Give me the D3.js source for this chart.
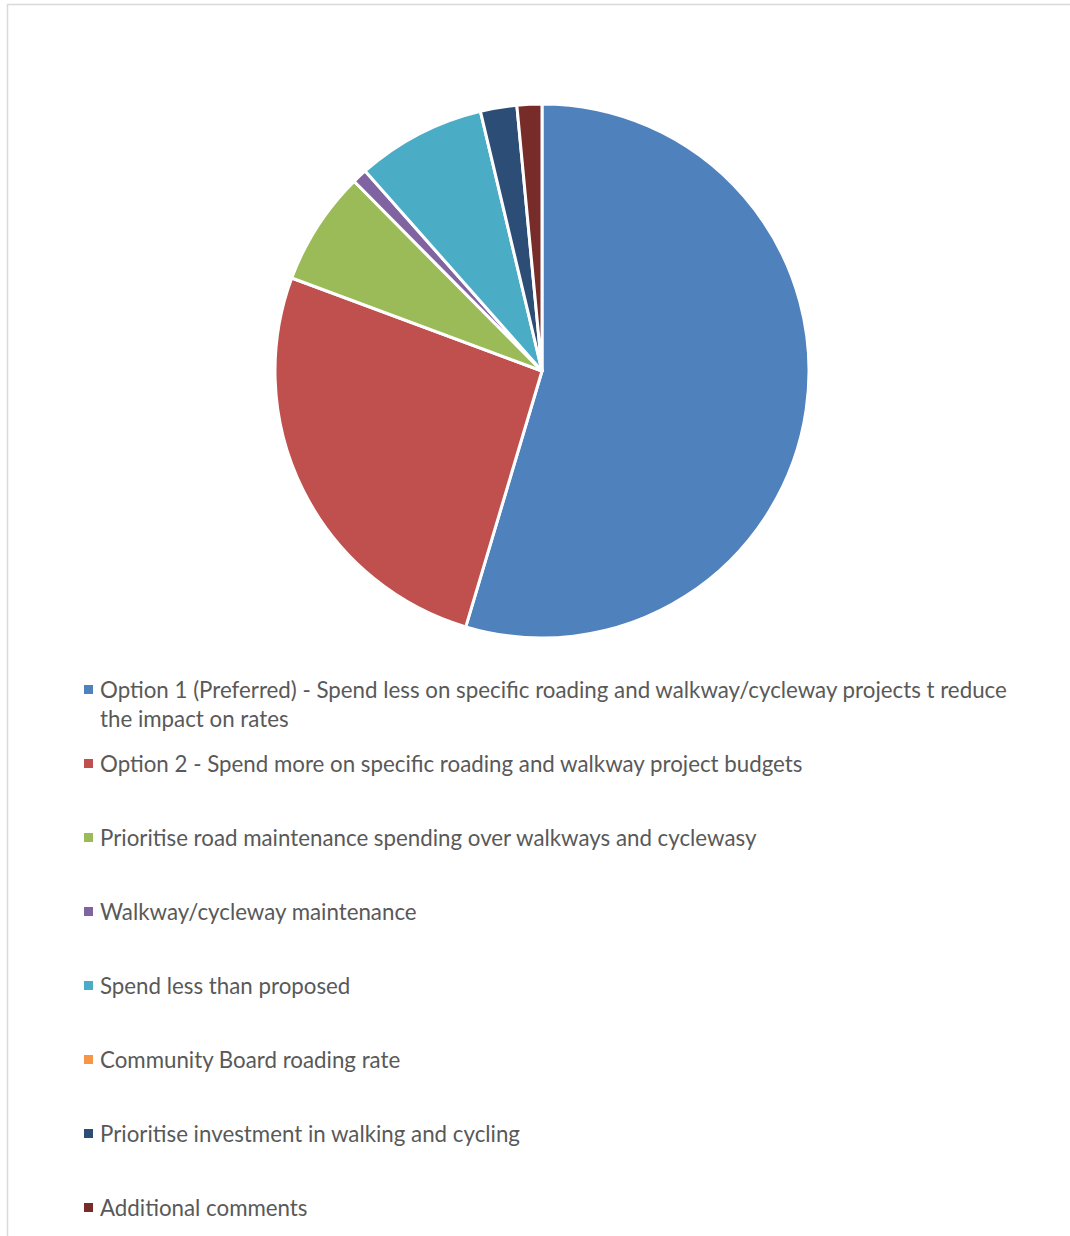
<!DOCTYPE html>
<html>
<head>
<meta charset="utf-8">
<script src="https://cdn.jsdelivr.net/npm/d3@7/dist/d3.min.js"></script>
<style>
  html, body { margin: 0; padding: 0; background: #fff; }
  svg { display: block; }
</style>
</head>
<body>
<svg id="chart" width="1070" height="1236"></svg>
<script>
// Survey responses, share of submissions (%)
const categories = [
  "Option 1 (Preferred) - Spend less on specific roading and walkway/cycleway projects t reduce the impact on rates",
  "Option 2 - Spend more on specific roading and walkway project budgets",
  "Prioritise road maintenance spending over walkways and cyclewasy",
  "Walkway/cycleway maintenance",
  "Spend less than proposed",
  "Community Board roading rate",
  "Prioritise investment in walking and cycling",
  "Additional comments"
];
const values = [54.5, 26.0, 6.9, 0.9, 7.8, 0, 2.2, 1.5];
const colors = ["#4F81BD", "#C0504D", "#9BBB59", "#8064A2", "#4BACC6", "#F79646", "#2C4D75", "#772C2A"];

const data = categories.map((c, i) => ({ label: c, value: values[i], color: colors[i] }));

const svg = d3.select("#chart");

// chart frame
svg.append("rect")
  .attr("x", 7.5).attr("y", 4.5)
  .attr("width", 1080).attr("height", 1250)
  .attr("fill", "#fff")
  .attr("stroke", "#d9d9d9")
  .attr("stroke-width", 1.5);

const cx = 542, cy = 371, r = 267;

const pie = d3.pie().sort(null).value(d => d.value);
const arc = d3.arc().innerRadius(0).outerRadius(r);

svg.append("g")
  .attr("transform", `translate(${cx},${cy})`)
  .selectAll("path")
  .data(pie(data).filter(d => d.data.value > 0))
  .join("path")
  .attr("d", arc)
  .attr("fill", d => d.data.color)
  .attr("stroke", "#fff")
  .attr("stroke-width", 3)
  .attr("stroke-linejoin", "round");

// legend
const legendX = 84, textX = 100, firstY = 690, rowStep = 74, wrapStep = 29;
const legend = svg.append("g")
  .attr("font-family", "Lato, 'Open Sans', sans-serif")
  .attr("font-size", 22.3)
  .attr("fill", "#595959");

const wrapped = {
  0: ["Option 1 (Preferred) - Spend less on specific roading and walkway/cycleway projects t reduce", "the impact on rates"]
};

data.forEach((d, i) => {
  const y = firstY + i * rowStep;
  legend.append("rect")
    .attr("x", legendX).attr("y", y - 5)
    .attr("width", 9).attr("height", 9)
    .attr("fill", d.color);
  const lines = wrapped[i] || [d.label];
  const t = legend.append("text")
    .attr("x", textX).attr("y", y);
  lines.forEach((ln, k) => {
    t.append("tspan")
      .attr("x", textX)
      .attr("y", y + k * wrapStep)
      .attr("dy", "0.35em")
      .text(ln);
  });
});
</script>
</body>
</html>
